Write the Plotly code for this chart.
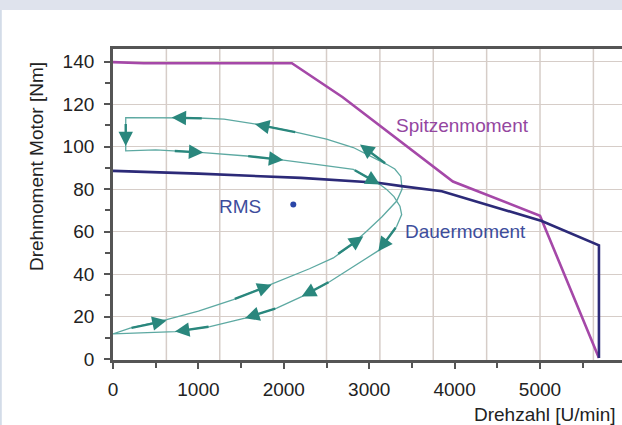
import plotly.graph_objects as go

# ---------------- data ----------------
spitzen_x = [0, 360, 2095, 2690, 3980, 5000, 5690]
spitzen_y = [139.8, 139.3, 139.3, 123.3, 83.6, 67.5, 0.5]

dauer_x = [0, 1000, 2200, 3100, 3400, 3850, 5020, 5690, 5690]
dauer_y = [88.6, 87.3, 85.3, 83.0, 81.3, 79.0, 65.0, 53.5, 0.5]

zyklus_x = [0, 200, 628, 1000, 1409, 1877, 2300, 2580, 2800, 2970, 3150, 3322, 3385, 3370,
            3300, 3204, 3000, 2814, 2500, 2151, 1683, 1300, 1000, 500, 149, 149, 500, 706,
            1057, 1565, 1994, 2400, 2814, 3126, 3200, 3290, 3360, 3380, 3322, 3126, 2800,
            2541, 2209, 1917, 1546, 1136, 726, 300, 0]
zyklus_y = [11.8, 14.5, 18.5, 22.5, 28.0, 35.8, 42.5, 47.6, 54.0, 60.2, 67.0, 74.4, 80.0, 86.0,
            89.5, 91.7, 96.0, 99.6, 103.5, 106.7, 110.6, 113.0, 113.5, 113.7, 113.7, 98.0, 98.5, 98.0,
            97.2, 95.6, 93.7, 91.5, 89.3, 82.2, 80.0, 76.5, 72.0, 68.0, 62.5, 51.5, 43.0,
            36.5, 29.4, 24.0, 19.2, 15.3, 12.9, 12.2, 11.8]

# arrows: tail -> head
pfeil_tail_x = [199, 1409, 2619, 3322, 2541, 1917, 1136, 1057, 2151, 3204, 149, 706, 1565, 2814]
pfeil_tail_y = [14.5, 28.0, 49.1, 62.5, 36.5, 24.0, 15.3, 113.3, 106.7, 91.7, 111.4, 98.0, 95.6, 89.3]
pfeil_head_x = [628, 1858, 2931, 3107, 2209, 1546, 726, 687, 1663, 2892, 149, 1057, 1994, 3126]
pfeil_head_y = [18.1, 35.0, 57.8, 50.7, 29.4, 19.2, 12.9, 113.7, 110.6, 101.0, 100.3, 97.2, 93.7, 82.2]

rms_x = [2111]
rms_y = [72.8]

x_tickvals = [0, 1000, 2000, 3000, 4000, 5000]
x_ticktext = ["0", "1000", "2000", "3000", "4000", "5000"]
y_tickvals = [0, 20, 40, 60, 80, 100, 120, 140]
y_ticktext = ["0", "20", "40", "60", "80", "100", "120", "140"]
x_grid = [625, 1250, 1875, 2500, 3125, 3750, 4375, 5000, 5625]

labels_text = ["Spitzenmoment", "Dauermoment", "RMS"]
labels_x = [4098, 4122, 1487]
labels_y = [110.0, 60.0, 71.8]
labels_color = ["#9446a0", "#3d4d9c", "#3d4d9c"]

# ---------------- style ----------------
FONT = "Liberation Sans, Arial, sans-serif"
FS = 19
GRID = "#d6cdc8"
TEAL_LINE = "#5da9a2"
TEAL_ARROW = "#2a877d"
MAGENTA = "#a548a8"
NAVY = "#2c2a78"
AXIS = "#555555"
XR = [0, 5960]
YR = [-0.47, 146.0]

fig = go.Figure()

# vertical grid lines (spacing differs from the tick spacing in the original)
grid_x, grid_y = [], []
for gx in x_grid:
    grid_x += [gx, gx, None]
    grid_y += [YR[0], YR[1], None]
fig.add_trace(go.Scatter(x=grid_x, y=grid_y, mode="lines", hoverinfo="skip",
                         line=dict(color=GRID, width=1.5), showlegend=False))

fig.add_trace(go.Scatter(x=zyklus_x, y=zyklus_y, mode="lines",
                         line=dict(color=TEAL_LINE, width=1.3), showlegend=False))
fig.add_trace(go.Scatter(x=spitzen_x, y=spitzen_y, mode="lines",
                         line=dict(color=MAGENTA, width=2.6), showlegend=False))
fig.add_trace(go.Scatter(x=dauer_x, y=dauer_y, mode="lines",
                         line=dict(color=NAVY, width=2.6), showlegend=False))
fig.add_trace(go.Scatter(x=rms_x, y=rms_y, mode="markers",
                         marker=dict(color="#2a46a8", size=6), showlegend=False))

annotations = []
for tx, ty, hx, hy in zip(pfeil_tail_x, pfeil_tail_y, pfeil_head_x, pfeil_head_y):
    annotations.append(dict(x=hx, y=hy, ax=tx, ay=ty, xref="x", yref="y",
                            axref="x", ayref="y", text="", showarrow=True,
                            arrowhead=2, arrowsize=1.2, arrowwidth=2.4,
                            arrowcolor=TEAL_ARROW))
for t, lx, ly, c in zip(labels_text, labels_x, labels_y, labels_color):
    annotations.append(dict(x=lx, y=ly, xref="x", yref="y", text=t, showarrow=False,
                            font=dict(family=FONT, size=FS, color=c),
                            xanchor="center", yanchor="middle"))

# axis titles
annotations.append(dict(x=-0.1493, y=0.6206, xref="paper", yref="paper",
                        text="Drehmoment Motor [Nm]", textangle=-90, showarrow=False,
                        font=dict(family=FONT, size=FS, color="#222222"),
                        xanchor="center", yanchor="middle"))
annotations.append(dict(x=0.993, y=-0.1768, xref="paper", yref="paper",
                        text="Drehzahl [U/min]", showarrow=False,
                        font=dict(family=FONT, size=FS, color="#222222"),
                        xanchor="right", yanchor="middle"))

shapes = [
    dict(type="rect", xref="paper", yref="paper", x0=-0.23, x1=1.01, y0=1.1254, y1=1.17,
         fillcolor="#dfe3ed", line=dict(width=0), layer="below"),
    dict(type="rect", xref="paper", yref="paper", x0=-0.23, x1=-0.2185, y0=-0.22, y1=1.1254,
         fillcolor="#d3dce8", line=dict(width=0), layer="below"),
]

fig.update_layout(
    width=622, height=425, autosize=False,
    margin=dict(l=113, r=0, t=49, b=65),
    paper_bgcolor="white", plot_bgcolor="white",
    font=dict(family=FONT, size=FS, color="#222222"),
    showlegend=False,
    annotations=annotations,
    shapes=shapes,
    xaxis=dict(range=XR, tickvals=x_tickvals, ticktext=x_ticktext,
               showgrid=False, zeroline=False,
               showline=True, linecolor=AXIS, linewidth=2.6, mirror=True,
               ticks="outside", ticklen=6, tickwidth=2, tickcolor=AXIS,
               minor=dict(dtick=500, tick0=0, ticks="outside", ticklen=5, tickwidth=2,
                          tickcolor=AXIS, showgrid=False),
               tickfont=dict(family=FONT, size=FS, color="#222222"),
               ticklabelstandoff=4),
    yaxis=dict(range=YR, tickvals=y_tickvals, ticktext=y_ticktext,
               showgrid=True, gridcolor=GRID, gridwidth=1.2, zeroline=False,
               showline=True, linecolor=AXIS, linewidth=2.8, mirror=False,
               ticks="outside", ticklen=6, tickwidth=2, tickcolor=AXIS,
               minor=dict(dtick=10, tick0=0, ticks="outside", ticklen=5, tickwidth=2,
                          tickcolor=AXIS, showgrid=False),
               tickfont=dict(family=FONT, size=FS, color="#222222"),
               ticklabelstandoff=6),
)

fig.write_html("out.html")
